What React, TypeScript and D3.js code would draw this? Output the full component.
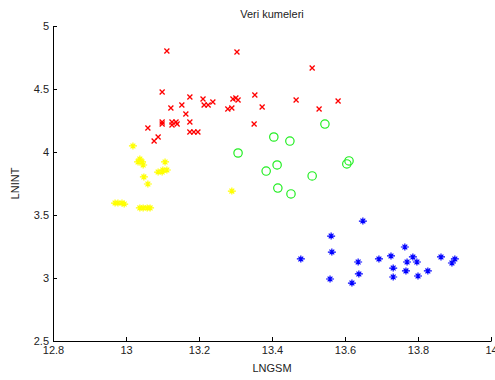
import { useEffect, useRef } from 'react';
import * as d3 from 'd3';

// cluster points [LNGSM, LNINT]
const redPts: [number, number][] = [
  [13.112, 4.802], [13.304, 4.794], [13.099, 4.476], [13.175, 4.437], [13.211, 4.421],
  [13.238, 4.397], [13.293, 4.421], [13.301, 4.429], [13.307, 4.413], [13.353, 4.452],
  [13.153, 4.373], [13.214, 4.373], [13.225, 4.373], [13.279, 4.341], [13.29, 4.349],
  [13.373, 4.357], [13.123, 4.349], [13.164, 4.302], [13.099, 4.238], [13.099, 4.222],
  [13.126, 4.238], [13.137, 4.238], [13.126, 4.214], [13.14, 4.222], [13.175, 4.238],
  [13.351, 4.222], [13.06, 4.19], [13.175, 4.159], [13.186, 4.159], [13.197, 4.159],
  [13.088, 4.119], [13.077, 4.087], [13.51, 4.667], [13.466, 4.413], [13.581, 4.405],
  [13.529, 4.341],
];
const greenPts: [number, number][] = [
  [13.545, 4.222], [13.405, 4.119], [13.449, 4.087], [13.307, 3.992], [13.414, 3.897],
  [13.384, 3.849], [13.611, 3.929], [13.605, 3.905], [13.51, 3.81], [13.416, 3.714],
  [13.452, 3.667],
];
const yellowPts: [number, number][] = [
  [13.019, 4.048], [13.038, 3.944], [13.044, 3.921], [13.033, 3.921], [13.047, 3.897],
  [13.107, 3.921], [13.088, 3.841], [13.101, 3.857], [13.112, 3.857], [13.099, 3.841],
  [13.049, 3.802], [13.06, 3.746], [12.97, 3.595], [12.978, 3.595], [12.989, 3.595],
  [12.995, 3.587], [13.038, 3.556], [13.047, 3.556], [13.058, 3.556], [13.066, 3.556],
  [13.29, 3.69],
];
const bluePts: [number, number][] = [
  [13.649, 3.452], [13.562, 3.333], [13.564, 3.206], [13.479, 3.151], [13.636, 3.127],
  [13.559, 2.992], [13.619, 2.96], [13.638, 3.032], [13.693, 3.151], [13.726, 3.175],
  [13.764, 3.246], [13.732, 3.079], [13.732, 3.008], [13.77, 3.127], [13.786, 3.167],
  [13.797, 3.127], [13.767, 3.056], [13.8, 3.016], [13.827, 3.056], [13.863, 3.167],
  [13.893, 3.119], [13.901, 3.151],
];

const xTicks = [12.8, 13, 13.2, 13.4, 13.6, 13.8, 14];
const yTicks = [2.5, 3, 3.5, 4, 4.5, 5];

export default function App() {
  const svgRef = useRef<SVGSVGElement>(null);

  useEffect(() => {
    const svg = d3.select(svgRef.current);
    svg.selectAll('*').remove();

    const left = 53, right = 491, top = 26, bottom = 341;
    const x = d3.scaleLinear().domain([12.8, 14]).range([left, right]);
    const y = d3.scaleLinear().domain([2.5, 5]).range([bottom, top]);
    const font = 'Liberation Sans, Arial, sans-serif';

    // axes, ticks pointing inward like matlab
    const gx = svg.append('g')
      .attr('transform', `translate(0,${bottom})`)
      .call(d3.axisBottom(x).tickValues(xTicks).tickFormat(d3.format('')).tickSizeInner(-4).tickSizeOuter(0).tickPadding(5));
    const gy = svg.append('g')
      .attr('transform', `translate(${left},0)`)
      .call(d3.axisLeft(y).tickValues(yTicks).tickFormat(d3.format('')).tickSizeInner(-4).tickSizeOuter(0).tickPadding(4));
    [gx, gy].forEach(g => {
      g.select('.domain').attr('stroke', '#000').attr('stroke-width', 1);
      g.selectAll('line').attr('stroke', '#000');
      g.selectAll('text').style('font-family', font).style('font-size', '11px').attr('fill', '#222');
    });

    // red x markers
    svg.append('g').selectAll('path')
      .data(redPts)
      .enter()
      .append('path')
      .attr('d', d => {
        const cx = x(d[0]), cy = y(d[1]), s = 2.5;
        return `M${cx - s},${cy - s}L${cx + s},${cy + s}M${cx - s},${cy + s}L${cx + s},${cy - s}`;
      })
      .attr('stroke', '#ff0000')
      .attr('stroke-width', 1.3)
      .attr('fill', 'none');

    // green circles
    svg.append('g').selectAll('circle')
      .data(greenPts)
      .enter()
      .append('circle')
      .attr('cx', d => x(d[0]))
      .attr('cy', d => y(d[1]))
      .attr('r', 4.2)
      .attr('fill', 'none')
      .attr('stroke', '#22ee22')
      .attr('stroke-width', 1.2);

    // asterisk markers (yellow + blue)
    const star = (cx: number, cy: number) => {
      const h = 4, v = 3.5, dd = 2.4;
      return `M${cx - h},${cy}L${cx + h},${cy}M${cx},${cy - v}L${cx},${cy + v}` +
        `M${cx - dd},${cy - dd}L${cx + dd},${cy + dd}M${cx - dd},${cy + dd}L${cx + dd},${cy - dd}`;
    };
    const drawStars = (pts: [number, number][], color: string) => {
      svg.append('g').selectAll('path')
        .data(pts)
        .enter()
        .append('path')
        .attr('d', d => star(x(d[0]), y(d[1])))
        .attr('stroke', color)
        .attr('stroke-width', 1.2)
        .attr('fill', 'none');
    };
    drawStars(yellowPts, '#ffff00');
    drawStars(bluePts, '#0000ff');

    // title and labels
    svg.append('text')
      .attr('x', (left + right) / 2)
      .attr('y', 18)
      .attr('text-anchor', 'middle')
      .style('font-family', font)
      .style('font-size', '11px')
      .attr('fill', '#222')
      .text('Veri kumeleri');

    svg.append('text')
      .attr('x', (left + right) / 2)
      .attr('y', 372)
      .attr('text-anchor', 'middle')
      .style('font-family', font)
      .style('font-size', '11px')
      .attr('fill', '#222')
      .text('LNGSM');

    svg.append('text')
      .attr('transform', `translate(19,${(top + bottom) / 2}) rotate(-90)`)
      .attr('text-anchor', 'middle')
      .style('font-family', font)
      .style('font-size', '11px')
      .attr('fill', '#222')
      .text('LNINT');
  }, []);

  return (
    <div style={{ position: 'absolute', left: 0, top: 0, background: '#fff' }}>
      <svg ref={svgRef} width={495} height={380} style={{ display: 'block' }}></svg>
    </div>
  );
}
